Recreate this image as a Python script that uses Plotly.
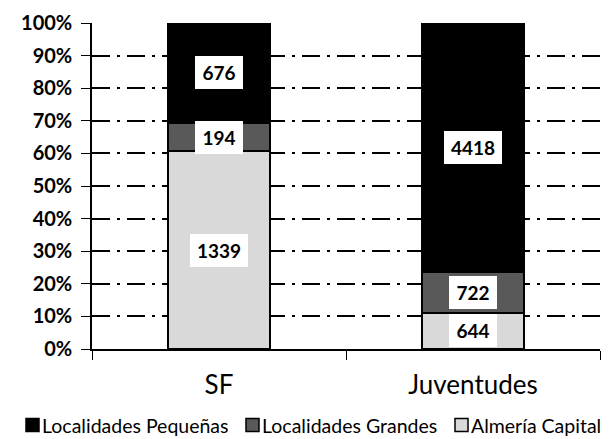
import plotly.graph_objects as go

categories = ["SF", "Juventudes"]
series_names = ["Almería Capital", "Localidades Grandes", "Localidades Pequeñas"]
almeria_capital = [1339, 644]
localidades_grandes = [194, 722]
localidades_pequenas = [676, 4418]
y_ticks = [0, 10, 20, 30, 40, 50, 60, 70, 80, 90, 100]
y_tick_labels = ["0%", "10%", "20%", "30%", "40%", "50%", "60%", "70%", "80%", "90%", "100%"]

series_values = [almeria_capital, localidades_grandes, localidades_pequenas]
colors = ["#d9d9d9", "#595959", "#000000"]
FONT = "Lato, 'Open Sans', sans-serif"

W, H = 615, 439
L, R, T, B = 92, 15, 23, 90
PW, PH = W - L - R, H - T - B


def px_x(px):
    return (px - L) / PW


def px_y(py):
    return (H - B - py) / PH


fig = go.Figure()
for name, vals, col in zip(series_names, series_values, colors):
    fig.add_trace(go.Bar(
        x=categories, y=vals, name=name,
        marker=dict(color=col, line=dict(color="black", width=2)),
        width=0.405, showlegend=False,
    ))

# value labels at the middle of each segment (percent of total)
annotations = []
for i, cat in enumerate(categories):
    total = sum(s[i] for s in series_values)
    cum = 0
    for s in series_values:
        pct = s[i] / total * 100
        mid = cum + pct / 2
        cum += pct
        txt = str(s[i])
        annotations.append(dict(
            x=cat, y=mid, xref="x", yref="y", text=f"<b>{txt}</b>",
            showarrow=False, bgcolor="white", borderpad=4, borderwidth=0,
            width=10 * len(txt) + 10, height=25,
            font=dict(family=FONT, size=19, color="black"),
        ))

# manual legend (order: Pequeñas, Grandes, Capital)
shapes = []
legend_items = list(zip(series_names, colors))[::-1]
legend_square_x = [26, 246, 455]
legend_cy = 425
for (name, col), sx in zip(legend_items, legend_square_x):
    shapes.append(dict(
        type="rect", xref="paper", yref="paper",
        x0=px_x(sx), x1=px_x(sx + 13), y0=px_y(legend_cy + 6.5), y1=px_y(legend_cy - 6.5),
        fillcolor=col, line=dict(color="black", width=1.5),
    ))
    annotations.append(dict(
        x=px_x(sx + 15), y=px_y(legend_cy), xref="paper", yref="paper",
        xanchor="left", yanchor="middle", showarrow=False, text=name,
        borderpad=0,
        font=dict(family=FONT, size=19.5, color="black"),
    ))

fig.update_layout(
    width=W, height=H,
    margin=dict(l=L, r=R, t=T, b=B, autoexpand=False),
    paper_bgcolor="white", plot_bgcolor="white",
    barmode="stack", barnorm="percent",
    font=dict(family=FONT, color="black"),
    showlegend=False,
    annotations=annotations,
    shapes=shapes,
)
fig.update_yaxes(
    range=[0, 100], tickvals=y_ticks, ticktext=y_tick_labels,
    showline=True, linecolor="black", linewidth=1.5,
    ticks="outside", ticklen=9, tickcolor="black",
    showgrid=True, gridcolor="black", gridwidth=2, griddash="18px,7px,3px,7px",
    zeroline=False,
    tickfont=dict(family=FONT, size=20, color="black", weight="bold"),
    ticklabelstandoff=5,
)
fig.update_xaxes(
    showline=True, linecolor="black", linewidth=1.5,
    ticks="outside", ticklen=9, tickcolor="black", tickson="boundaries",
    tickfont=dict(family=FONT, size=26, color="black"),
    ticklabelstandoff=12,
)

fig.write_html("out.html")
